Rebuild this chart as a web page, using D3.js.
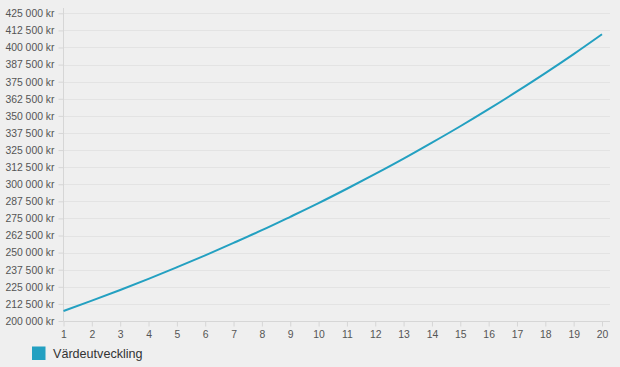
<!DOCTYPE html>
<html><head><meta charset="utf-8">
<script src="https://cdn.jsdelivr.net/npm/d3@7"></script>
<style>
html,body{margin:0;padding:0;background:#efefef;}
svg{display:block;font-family:"Helvetica Neue",Helvetica,Arial,"Liberation Sans",sans-serif;}
</style></head><body>
<svg id="c" width="620" height="367"></svg>
<script>
const years = [1,2,3,4,5,6,7,8,9,10,11,12,13,14,15,16,17,18,19,20];
const values = [207300,214900,222700,230800,239300,248000,257100,266400,276200,286200,296700,307500,318700,330400,342400,354900,367900,381300,395200,409700];
const yTicks = [200000,212500,225000,237500,250000,262500,275000,287500,300000,312500,325000,337500,350000,362500,375000,387500,400000,412500,425000];
const seriesName = "Värdeutveckling";
const color = "#23a0c1";

const svg = d3.select("#c");
const x = d3.scaleLinear().domain([1,20]).range([63.5,602]);
const y = d3.scaleLinear().domain([200000,425000]).range([321,13.3]);
const fmt = v => d3.format(",")(v).replace(/,/g," ") + " kr";

// gridlines
svg.append("g").selectAll("line").data(yTicks.slice(1)).join("line")
  .attr("x1",63.5).attr("x2",610)
  .attr("y1",d=>Math.round(y(d))+0.5).attr("y2",d=>Math.round(y(d))+0.5)
  .attr("stroke","#e3e3e3").attr("stroke-width",1);

// y axis
const ya = svg.append("g").attr("transform","translate(63.5,0)")
  .call(d3.axisLeft(y).tickValues(yTicks).tickFormat(fmt).tickSize(5).tickPadding(4));
ya.select(".domain").attr("stroke","#d6d6d6").attr("d","M0,8V321");
ya.selectAll(".tick line").attr("stroke","#d6d6d6");
ya.selectAll(".tick text").attr("fill","#555").style("font-size","10.4px");

// x axis
const xa = svg.append("g").attr("transform","translate(0,321.5)")
  .call(d3.axisBottom(x).tickValues(years).tickFormat(d3.format("d")).tickSize(5).tickPadding(4));
xa.select(".domain").attr("stroke","#d6d6d6").attr("d","M63.5,0H610");
xa.selectAll(".tick line").attr("stroke","#d6d6d6");
xa.selectAll(".tick text").attr("fill","#555").style("font-size","10.4px");

// line
svg.append("path").datum(values)
  .attr("fill","none").attr("stroke",color).attr("stroke-width",2)
  .attr("d", d3.line().x((d,i)=>x(years[i])).y(d=>y(d)).curve(d3.curveMonotoneX));

// legend
const lg = svg.append("g").attr("transform","translate(32,346.5)");
lg.append("rect").attr("width",13.5).attr("height",13.5).attr("fill",color);
lg.append("text").attr("x",21).attr("y",11.5).text(seriesName)
  .attr("fill","#333").style("font-size","12.6px");
</script>
</body></html>
